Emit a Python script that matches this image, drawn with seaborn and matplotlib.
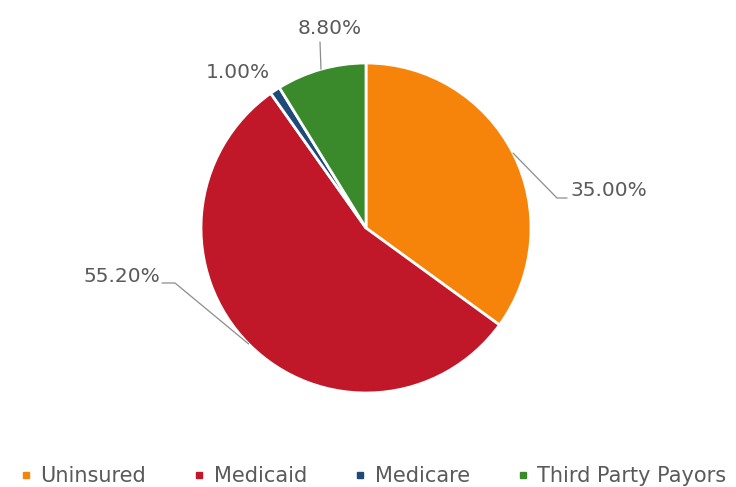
import numpy as np
import matplotlib.pyplot as plt
from matplotlib.lines import Line2D
import seaborn as sns

categories = ['Uninsured', 'Medicaid', 'Medicare', 'Third Party Payors']
shares = [35.0, 55.2, 1.0, 8.8]
labels = ['35.00%', '55.20%', '1.00%', '8.80%']
colors = ['#F7840A', '#C01828', '#1D4A78', '#3A8A2C']

sns.set_theme(style='white')
plt.rcParams['font.family'] = ['DejaVu Sans']
text_color = '#5a5a5a'

W, H = 736, 487
fig = plt.figure(figsize=(W / 100, H / 100), dpi=100)
ax = fig.add_axes([0, 0, 1, 1])

cx, cy, r = 366, H - 228, 165
wedges, _ = ax.pie(shares, colors=colors, startangle=90, counterclock=False,
                   center=(cx, cy), radius=r, frame=True,
                   wedgeprops=dict(edgecolor='white', linewidth=2))
ax.set_xlim(0, W)
ax.set_ylim(0, H)
ax.set_aspect('equal')
ax.axis('off')

# label layout in pixels from top-left: elbow, end of leader, text anchor, ha
layout = [
    ((557, 198), (567, 198), (570, 191), 'left'),
    ((175, 283), (162, 283), (160, 277), 'right'),
    (None, None, (238, 72), 'center'),
    ((320, 42), None, (330, 28), 'center'),
]

for w, lab, (p1, p2, tp, ha) in zip(wedges, labels, layout):
    mid = np.deg2rad((w.theta1 + w.theta2) / 2)
    ex, ey = cx + r * np.cos(mid), cy + r * np.sin(mid)
    if p1 is not None:
        xs = [ex, p1[0]]
        ys = [ey, H - p1[1]]
        if p2 is not None:
            xs.append(p2[0])
            ys.append(H - p2[1])
        ax.plot(xs, ys, color='#8c8c8c', lw=0.9)
    ax.text(tp[0], H - tp[1], lab, ha=ha, va='center', fontsize=14.5, color=text_color)

handles = [Line2D([0], [0], marker='s', linestyle='', markersize=5,
                  markerfacecolor=c, markeredgecolor=c) for c in colors]
fig.legend(handles, categories, loc='center left', bbox_to_anchor=(10 / W, 1 - 476 / H),
           ncol=4, frameon=False, fontsize=15, labelcolor=text_color, borderpad=0,
           handlelength=0.5, handletextpad=0.45, columnspacing=2.3)

fig.savefig('out.png', dpi=100, facecolor='white')
